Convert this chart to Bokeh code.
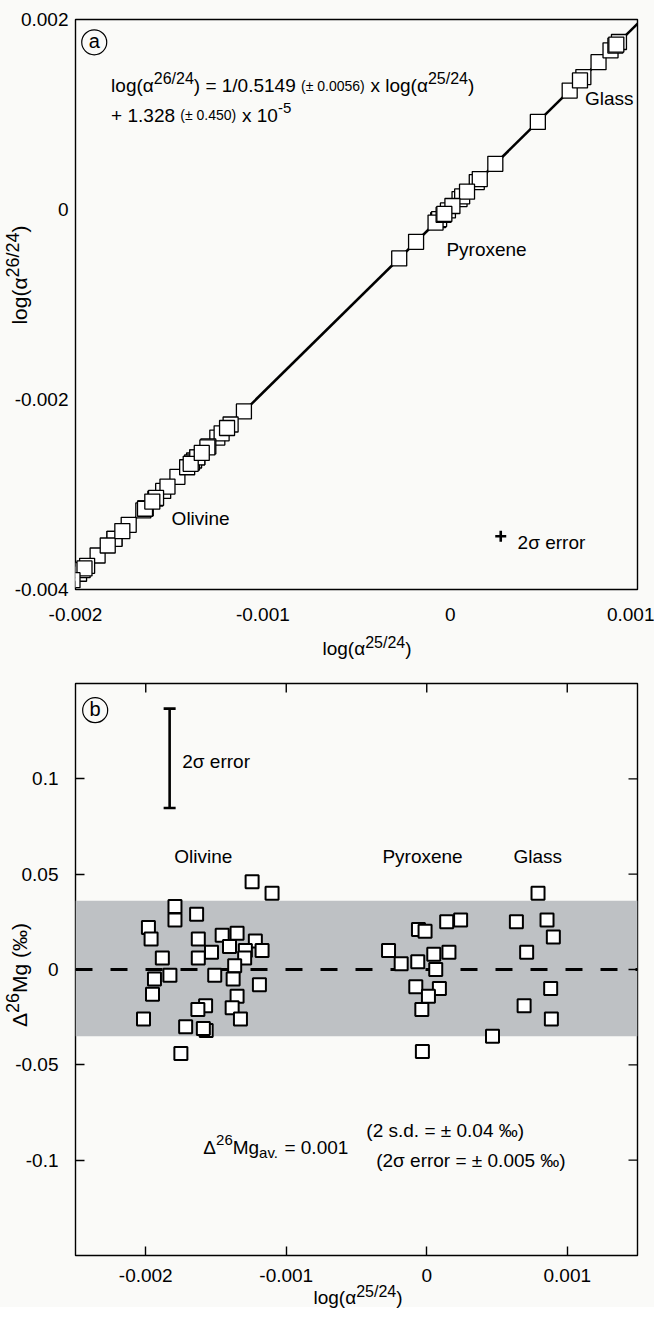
import math
from bokeh.plotting import figure
from bokeh.models import (Range1d, FixedTicker, CustomJSTickFormatter, Label, Div, GridBox,
                          Slope, Span, BoxAnnotation, Whisker, TeeHead, ColumnDataSource)
from bokeh.embed import file_html
from bokeh.resources import INLINE

FONT = "Liberation Sans"

# ---------------- data ----------------
# log(alpha 25/24)
olivine_x25 = [-0.001243, -0.001101, -0.001792, -0.001792, -0.001638, -0.001981, -0.001962,
               -0.001626, -0.001456, -0.001350, -0.001404, -0.001220, -0.001291, -0.001172,
               -0.001296, -0.001532, -0.001882, -0.001626, -0.001367, -0.001828, -0.001938,
               -0.001509, -0.001378, -0.001191, -0.001952, -0.001350, -0.001574, -0.001629,
               -0.001385, -0.002016, -0.001326, -0.001716, -0.001570, -0.001750, -0.001590]
# log(alpha 26/24)
olivine_y26 = [-0.002401, -0.002125, -0.003467, -0.003467, -0.003168, -0.003834, -0.003797,
               -0.003145, -0.002814, -0.002609, -0.002713, -0.002356, -0.002494, -0.002263,
               -0.002504, -0.002962, -0.003642, -0.003145, -0.002642, -0.003537, -0.003751,
               -0.002917, -0.002663, -0.002300, -0.003778, -0.002609, -0.003044, -0.003150,
               -0.002677, -0.003902, -0.002562, -0.003319, -0.003036, -0.003385, -0.003074]
# Delta 26Mg (permil)
olivine_d26 = [0.046, 0.040, 0.033, 0.026, 0.029, 0.022, 0.016,
               0.016, 0.018, 0.019, 0.012, 0.015, 0.010, 0.010,
               0.006, 0.009, 0.006, 0.006, 0.002, -0.003, -0.005,
               -0.003, -0.005, -0.008, -0.013, -0.014, -0.019, -0.021,
               -0.020, -0.026, -0.026, -0.030, -0.032, -0.044, -0.031]

pyroxene_x25 = [-0.000272, -0.000182, -0.000064, -0.000059, -0.000012, 0.000142, 0.000241,
                0.000050, 0.000158, 0.000064, -0.000078, 0.000090, 0.000012, -0.000035, -0.000031]
pyroxene_y26 = [-0.000515, -0.000340, -0.000111, -0.000101, -0.000010, 0.000289, 0.000481,
                0.000110, 0.000320, 0.000138, -0.000138, 0.000188, 0.000037, -0.000055, -0.000047]
pyroxene_d26 = [0.010, 0.003, 0.004, 0.021, 0.020, 0.025, 0.026,
                0.008, 0.009, 0.000, -0.009, -0.010, -0.014, -0.021, -0.043]

glass_x25 = [0.000792, 0.000638, 0.000856, 0.000901, 0.000711, 0.000882, 0.000693, 0.000887, 0.000468]
glass_y26 = [0.001551, 0.001252, 0.001676, 0.001763, 0.001394, 0.001726, 0.001359, 0.001736, 0.000922]
glass_d26 = [0.040, 0.025, 0.026, 0.017, 0.009, -0.010, -0.019, -0.026, -0.035]

fit_gradient = 1 / 0.5149
fit_intercept = 1.328e-5

xa_range = (-0.002, 0.001)
ya_range = (-0.004, 0.002)
xb_range = (-0.0025, 0.0015)
yb_range = (-0.15, 0.15)

ticks_a_x = [-0.002, -0.001, 0, 0.001]
ticks_a_y = [-0.004, -0.002, 0, 0.002]
ticks_b_x = [-0.002, -0.001, 0, 0.001]
ticks_b_y = [-0.1, -0.05, 0, 0.05, 0.1]

band_b = (-0.035, 0.036)           # 2 s.d. band
err_b = dict(base=[-0.00183], lower=[0.0847], upper=[0.1368])   # 2 sigma error bar
err_a = dict(x=[0.00027], y=[-0.00344])

BG = "#fafaf8"

# ---------------- helpers ----------------
W = {' ': 278, '(': 333, ')': 333, '+': 584, '-': 333, '.': 278, '/': 278, '=': 584,
     '±': 584, '‰': 1000, 'α': 578, 'σ': 600, 'Δ': 668, 'x': 500, 'l': 222, 'o': 556,
     'g': 556, 'M': 833, 'a': 556, 'v': 500, 's': 500, 'd': 556, 'e': 556, 'r': 333,
     'i': 222, 'n': 556, 'O': 778, 'P': 667, 'y': 500, 'G': 778}


def tw(s, size):
    return sum(W.get(c, 556) for c in s) / 1000.0 * size


def rich(p, x, y, parts, align="left"):
    if len(parts) == 1 and align == "center":
        t, s, r = parts[0]
        p.add_layout(Label(x=x, y=y, text=t, text_font=FONT, text_font_size=f"{s}px",
                           text_color="black", text_baseline="alphabetic",
                           text_align="center", y_offset=r))
        return
    total = sum(tw(t, s) for t, s, r in parts)
    adv = -total / 2 if align == "center" else 0.0
    for t, s, r in parts:
        lead = len(t) - len(t.lstrip(' '))
        a0 = adv + tw(' ' * lead, s)
        txt = t.strip(' ')
        if txt:
            p.add_layout(Label(x=x, y=y, text=txt, text_font=FONT, text_font_size=f"{s}px",
                               text_color="black", text_baseline="alphabetic",
                               text_align="left", x_offset=a0, y_offset=r))
        adv += tw(t, s)


def circled(p, x, y, letter):
    p.scatter([x], [y], marker="circle", size=25, fill_color=None,
              line_color="black", line_width=1.2)
    p.add_layout(Label(x=x, y=y, text=letter, text_font=FONT, text_font_size="20px",
                       text_color="black", text_align="center", text_baseline="middle",
                       y_offset=1))


fmt = CustomJSTickFormatter(code="return tick == 0 ? '0' : tick.toString();")


def base_fig(xr, yr, w, h, left, right, top, bottom):
    p = figure(width=w, height=h, x_range=Range1d(*xr), y_range=Range1d(*yr),
               output_backend="svg", toolbar_location=None,
               min_border_left=left, min_border_right=right,
               min_border_top=top, min_border_bottom=bottom)
    p.grid.visible = False
    p.background_fill_color = BG
    p.border_fill_color = BG
    p.outline_line_color = "black"
    p.outline_line_width = 1.4
    p.outline_line_alpha = 1
    return p


def style_axis(ax, ticks, standoff, tick_in):
    ax.ticker = FixedTicker(ticks=ticks, minor_ticks=[])
    ax.formatter = fmt
    ax.axis_line_color = None
    ax.major_tick_in = tick_in
    ax.major_tick_out = 0
    ax.major_tick_line_width = 1.4
    ax.major_tick_line_color = "black" if tick_in else None
    ax.minor_tick_line_color = None
    ax.major_label_standoff = standoff
    ax.major_label_text_font = FONT
    ax.major_label_text_font_size = "19px"
    ax.major_label_text_color = "black"


def title_overlay(w, h, xc, yc, xsup, yc2, y_inner):
    """Transparent HTML layer laid over a figure, carrying its two axis titles."""
    base = f"font-family:'{FONT}';color:black;white-space:nowrap;position:absolute;"
    html = (f'<div style="position:relative;width:{w}px;height:{h}px;">'
            f'<div style="{base}left:{xc}px;top:{yc}px;transform:translate(-50%,-50%);'
            f'font-size:19px;line-height:22px;">log(α<span style="font-size:16px;'
            f'position:relative;top:-7px;">{xsup}</span>)</div>'
            f'<div style="{base}left:20px;top:{yc2}px;'
            f'transform:translate(-50%,-50%) rotate(-90deg);font-size:21px;line-height:24px;">'
            f'{y_inner}</div></div>')
    return Div(text=html, width=w, height=h, margin=(0, 0, 0, 0))


SUP = '<span style="font-size:18px;position:relative;top:-8px;">{}</span>'

# ---------------- panel (a) ----------------
H1 = 661
p1 = base_fig(xa_range, ya_range, 654, H1, 75, 17, 19, 72)
style_axis(p1.xaxis[0], ticks_a_x, 18, 0)
style_axis(p1.yaxis[0], ticks_a_y, 7, 0)

p1.add_layout(Slope(gradient=fit_gradient, y_intercept=fit_intercept, line_color="black",
                    line_width=2.6, level="underlay"))

for xs, ys in [(olivine_x25, olivine_y26), (pyroxene_x25, pyroxene_y26), (glass_x25, glass_y26)]:
    p1.scatter(xs, ys, marker="square", size=15, fill_color="white", line_color="black",
               line_width=1.3)

p1.scatter(err_a["x"], err_a["y"], marker="cross", size=11, line_color="black", line_width=2.6)
rich(p1, 0.00036, -0.003505, [("2σ error", 19, 0)])

circled(p1, -0.0019, 0.00176, "a")

rich(p1, -0.00181, 0.001305, [("log(α", 19, 0), ("26/24", 16, 7), (") = 1/0.5149 ", 19, 0),
                              ("(± 0.0056)", 14, 0), (" x log(α", 19, 0), ("25/24", 16, 7),
                              (")", 19, 0)])
rich(p1, -0.00181, 0.00099, [("+ 1.328 ", 19, 0), ("(± 0.450)", 14, 0), (" x 10", 19, 0),
                             ("-5", 15, 7)])

rich(p1, 0.00072, 0.00117, [("Glass", 19, 0)])
rich(p1, -0.00002, -0.000421, [("Pyroxene", 19, 0)])
rich(p1, -0.001487, -0.003253, [("Olivine", 19, 0)])

# ---------------- panel (b) ----------------
H2 = 646
p2 = base_fig(xb_range, yb_range, 654, H2, 75, 17, 22, 52)
style_axis(p2.xaxis[0], ticks_b_x, 13, 9)
style_axis(p2.yaxis[0], ticks_b_y, 17, 9)
# inward ticks on the top and right frame edges (outer half is clipped by the frame)
p2.scatter(ticks_b_x, [yb_range[1]] * len(ticks_b_x), marker="dash", angle=math.pi / 2,
           size=18, line_color="black", line_width=1.4)
p2.scatter([xb_range[1]] * len(ticks_b_y), ticks_b_y, marker="dash",
           size=18, line_color="black", line_width=1.4)

p2.add_layout(BoxAnnotation(bottom=band_b[0], top=band_b[1], fill_color="#bec1c4",
                            fill_alpha=1, line_color=None, level="underlay"))
p2.add_layout(Span(location=0, dimension="width", line_color="black", line_width=3,
                   line_dash="17 18", level="underlay"))

for xs, ds in [(olivine_x25, olivine_d26), (pyroxene_x25, pyroxene_d26), (glass_x25, glass_d26)]:
    p2.scatter(xs, ds, marker="square", size=13, fill_color="white", line_color="black",
               line_width=2)

p2.add_layout(Whisker(source=ColumnDataSource(err_b), base="base", lower="lower", upper="upper",
                      dimension="height", line_color="black", line_width=2.6,
                      upper_head=TeeHead(size=12, line_width=2.6, line_color="black"),
                      lower_head=TeeHead(size=12, line_width=2.6, line_color="black")))
rich(p2, -0.00174, 0.109, [("2σ error", 19, 0)])

circled(p2, -0.00236, 0.136, "b")

rich(p2, -0.00159, 0.0593, [("Olivine", 19, 0)], align="center")
rich(p2, -0.00003, 0.0593, [("Pyroxene", 19, 0)], align="center")
rich(p2, 0.00079, 0.0593, [("Glass", 19, 0)], align="center")

rich(p2, -0.00159, -0.0935, [("Δ", 19, 0), ("26", 15, 8), ("Mg", 19, 0), ("av.", 15, -5),
                             (" = 0.001", 19, 0)])
rich(p2, -0.00043, -0.0846, [("(2 s.d. = ± 0.04 ‰)", 19, 0)])
rich(p2, -0.00036, -0.1003, [("(2σ error = ± 0.005 ‰)", 19, 0)])

# ---------------- axis titles: HTML layers over each figure ----------------
t1 = title_overlay(654, H1, 367, 649, "25/24", 275, "log(α" + SUP.format("26/24") + ")")
t2 = title_overlay(654, H2, 358, 637, "25/24", 314, "Δ" + SUP.format("26") + "Mg (‰)")

layout = GridBox(children=[(p1, 0, 0), (t1, 0, 0), (p2, 1, 0), (t2, 1, 0)], spacing=0,
                 styles={"background-color": BG})
open("out.html", "w").write(file_html(layout, INLINE))
